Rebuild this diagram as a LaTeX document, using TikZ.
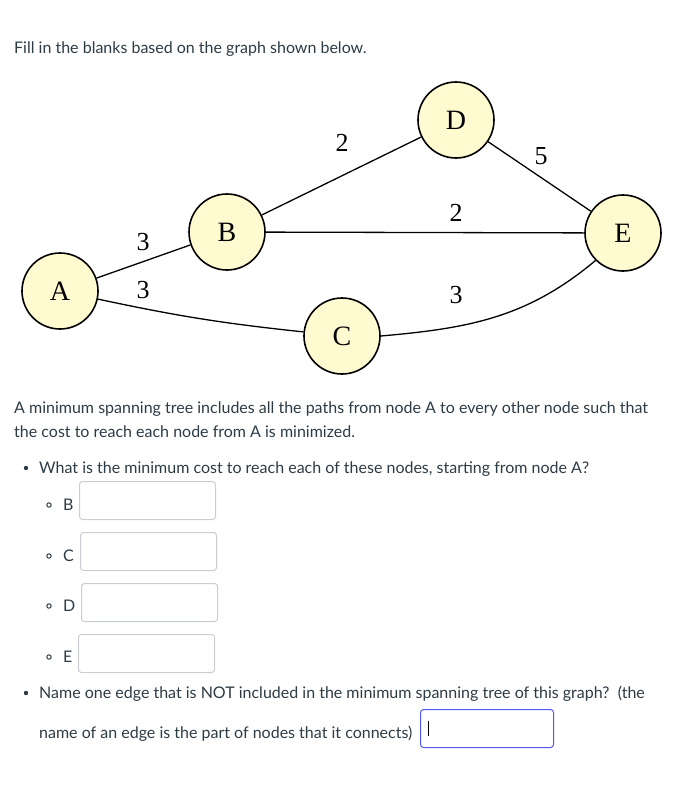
\documentclass[tikz,border=0pt]{standalone}
\usepackage{fontspec}
\setmainfont{Lato}
\newfontfamily\graphfont{Liberation Serif}
\usetikzlibrary{positioning}
\definecolor{nodefill}{RGB}{255,250,208}
\definecolor{inktext}{RGB}{45,59,69}
\definecolor{boxgray}{RGB}{199,205,209}
\definecolor{focusblue}{RGB}{78,90,236}

\begin{document}
\begin{tikzpicture}[x=1pt, y=-1pt,
    vertex/.style={circle, draw=black, line width=1.6pt, fill=nodefill, minimum size=76pt, inner sep=0pt, font=\graphfont\fontsize{28}{28}\selectfont},
    wt/.style={inner sep=0pt, font=\graphfont\fontsize{26}{26}\selectfont},
    txt/.style={anchor=base west, inner sep=0pt, text=inktext, font=\fontsize{16}{18}\selectfont},
    ansbox/.style={draw=boxgray, line width=1pt, rounded corners=3pt, minimum width=136pt, minimum height=38pt, anchor=north west, inner sep=0pt}]
    \useasboundingbox (0,0) rectangle (682,795);

    % graph
    \node[vertex] (a) at (60,291) {A};
    \node[vertex] (b) at (227,232) {B};
    \node[vertex] (c) at (342,336) {C};
    \node[vertex] (d) at (456,120) {D};
    \node[vertex] (e) at (623,233) {E};

    \draw[line width=1.3pt] (a) -- (b);
    \draw[line width=1.3pt] (a) to[bend right=3] (c);
    \draw[line width=1.3pt] (b) -- (d);
    \draw[line width=1.3pt] (b) -- (e);
    \draw[line width=1.3pt] (d) -- (e);
    \draw[line width=1.3pt] (c.east) to[out=5, in=220] (e.225);

    \node[wt] (wab) at (143,242) {3};
    \node[wt] (wac) at (143,290) {3};
    \node[wt] (wbd) at (342,143) {2};
    \node[wt] (wbe) at (456,213) {2};
    \node[wt] (wde) at (541,156) {5};
    \node[wt] (wce) at (456,295) {3};

    % question text
    \node[txt] (intro) at (14,53) {Fill in the blanks based on the graph shown below.};
    \node[txt] (defa) at (14,413) {A minimum spanning tree includes all the paths from node A to every other node such that};
    \node[txt] (defb) at (14,437) {the cost to reach each node from A is minimized.};
    \node[txt] (qone) at (39,473) {What is the minimum cost to reach each of these nodes, starting from node A?};
    \fill[inktext] (26,468) circle (2.2pt);

    \foreach \lbl/\ty/\bx/\by in {B/510/79/481, C/561/80/532, D/611/81/583, E/662/78/634}{
        \draw[inktext, line width=1pt] (49,\ty-5) circle (2.2pt);
        \node[txt] (lbl\lbl) at (63,\ty) {\lbl};
        \node[ansbox] (ans\lbl) at (\bx,\by) {};
    }

    \fill[inktext] (26,693) circle (2.2pt);
    \node[txt] (qtwoa) at (39,698) {Name one edge that is NOT included in the minimum spanning tree of this graph?~~(the};
    \node[txt] (qtwob) at (39,738) {name of an edge is the part of nodes that it connects)};
    \node[ansbox, draw=focusblue, minimum width=133pt] (ansedge) at (420,709) {};
    \draw[black, line width=1pt] ([xshift=8pt, yshift=-12pt]ansedge.north west) -- ([xshift=8pt, yshift=12pt]ansedge.south west);
\end{tikzpicture}
\end{document}
